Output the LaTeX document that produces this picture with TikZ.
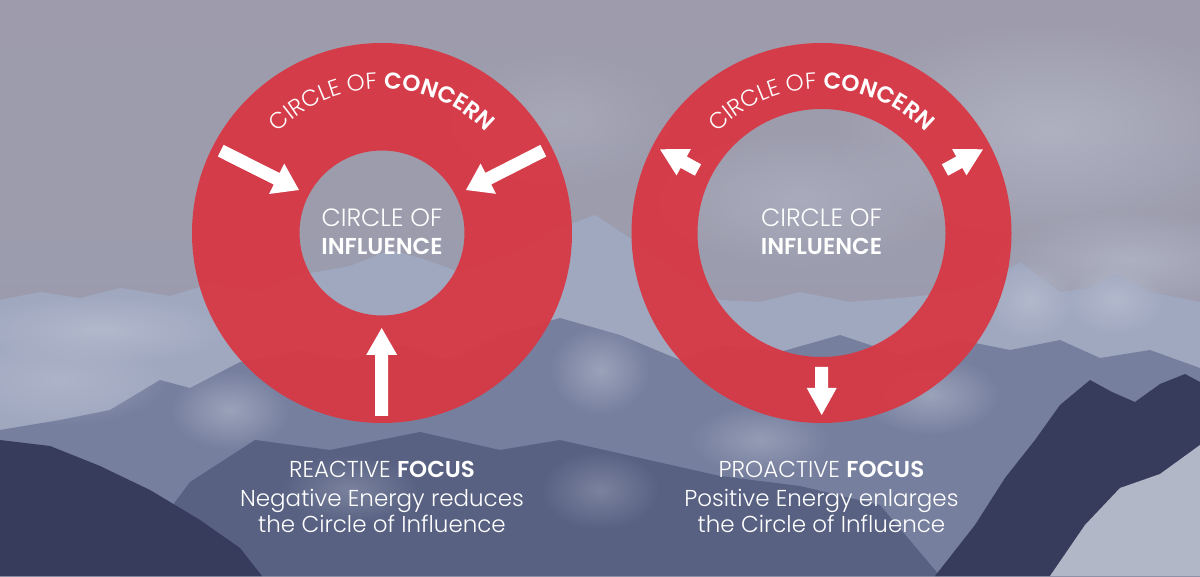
\documentclass[tikz,border=0pt]{standalone}
\usepackage{fontspec}
\setmainfont{Poppins Light}[BoldFont={Poppins SemiBold}]
\usetikzlibrary{calc,decorations.text,fadings}
\definecolor{ringred}{RGB}{216,55,67}
\definecolor{skytop}{RGB}{158,156,172}
\definecolor{skymid}{RGB}{152,155,174}
\definecolor{cloudc}{RGB}{190,194,210}
\definecolor{farmt}{RGB}{160,168,192}
\definecolor{midmt}{RGB}{118,127,158}
\definecolor{snow}{RGB}{186,192,210}
\definecolor{lowmt}{RGB}{88,97,130}
\definecolor{darkmt}{RGB}{56,60,92}
\definecolor{brightsnow}{RGB}{200,205,220}
\tikzfading[name=softblob, inner color=transparent!0, outer color=transparent!100]
\newcommand\whitearrow[4]{% tail, tip, head length, head half width
  \fill[arrowfill]
    ($(#1)!6.5pt!90:(#2)$) --
    ($(#2)!#3!(#1)!6.5pt!90:(#2)$) --
    ($(#2)!#3!(#1)!#4!90:(#2)$) --
    (#2) --
    ($(#2)!#3!(#1)!#4!-90:(#2)$) --
    ($(#2)!#3!(#1)!6.5pt!-90:(#2)$) --
    ($(#1)!6.5pt!-90:(#2)$) -- cycle;}
\begin{document}
\begin{tikzpicture}[x=1pt,y=1pt,
  arrowfill/.style={fill=white},
  ring/.style={fill=ringred, fill opacity=0.94, even odd rule},
  lbl/.style={text=white, inner sep=0pt, anchor=base, font=\fontsize{23}{23}\selectfont},
  lblb/.style={lbl, font=\fontsize{23}{23}\selectfont\bfseries},
  cloud/.style={fill=cloudc, path fading=softblob},
  mist/.style={fill=snow, path fading=softblob}]
\useasboundingbox (0,0) rectangle (1200,576);
% sky
\shade[top color=skytop, bottom color=skymid] (0,0) rectangle (1200,576);
\begin{scope}[shift={(0,576)},yscale=-1]
  % clouds
  \fill[cloud, opacity=.55] (1050,130) ellipse [x radius=220, y radius=110];
  \fill[cloud, opacity=.55] (1130,260) ellipse [x radius=140, y radius=50];
  \fill[cloud, opacity=.40] (800,200) ellipse [x radius=150, y radius=70];
  \fill[cloud, opacity=.30] (560,120) ellipse [x radius=120, y radius=70];
  % far hazy snowy range
  \fill[farmt] (0,300) -- (40,292) -- (80,298) -- (120,288) -- (170,296) -- (210,284)
    -- (260,292) -- (300,275) -- (350,266) -- (390,250) -- (420,258) -- (460,272) -- (510,255)
    -- (560,228) -- (595,215) -- (630,238) -- (680,275) -- (720,300) -- (760,302) -- (800,292)
    -- (850,302) -- (900,298) -- (960,292) -- (1000,275) -- (1020,262) -- (1060,292) -- (1090,288)
    -- (1115,274) -- (1150,292) -- (1200,302) -- (1200,576) -- (0,576) -- cycle;
  \fill[mist, opacity=.7] (100,330) ellipse [x radius=130, y radius=35];
  \fill[mist, opacity=.7] (1030,300) ellipse [x radius=45, y radius=40];
  \fill[mist, opacity=.7] (1115,300) ellipse [x radius=50, y radius=35];
  % mid rocky range
  \fill[midmt] (0,430) -- (60,420) -- (110,410) -- (160,380) -- (190,388) -- (240,362)
    -- (300,350) -- (350,360) -- (400,345) -- (450,360) -- (500,335) -- (560,318) -- (620,335)
    -- (680,360) -- (720,345) -- (780,352) -- (840,335) -- (900,355) -- (960,340) -- (1010,350)
    -- (1060,340) -- (1100,358) -- (1150,350) -- (1200,368) -- (1200,576) -- (0,576) -- cycle;
  \fill[mist, opacity=.5] (60,380) ellipse [x radius=110, y radius=45];
  \fill[mist, opacity=.55] (230,410) ellipse [x radius=60, y radius=40];
  \fill[mist, opacity=.55] (600,370) ellipse [x radius=50, y radius=45];
  \fill[mist, opacity=.55] (930,395) ellipse [x radius=70, y radius=40];
  \fill[mist, opacity=.45] (760,440) ellipse [x radius=70, y radius=35];
  % lower mass
  \fill[lowmt] (120,576) -- (190,482) -- (255,440) -- (330,450) -- (420,432) -- (500,450) -- (560,440)
    -- (640,458) -- (720,476) -- (800,486) -- (880,505) -- (940,576) -- cycle;
  \fill[mist, opacity=.35] (350,490) ellipse [x radius=70, y radius=35];
  \fill[mist, opacity=.35] (600,490) ellipse [x radius=60, y radius=40];
  % dark foreground left
  \fill[darkmt] (0,440) -- (50,446) -- (100,466) -- (150,490) -- (200,520) -- (240,548) -- (262,576) -- (0,576) -- cycle;
  % dark foreground right
  \fill[darkmt] (935,576) -- (975,525) -- (1005,478) -- (1035,440) -- (1060,405) -- (1090,380)
    -- (1112,392) -- (1135,402) -- (1160,384) -- (1185,374) -- (1200,382) -- (1200,576) -- cycle;
  \fill[brightsnow, opacity=.85] (1050,576) -- (1085,525) -- (1120,488) -- (1160,474) -- (1200,445) -- (1200,576) -- cycle;
  % rings
  \coordinate (Lc) at (382,233);
  \coordinate (Rc) at (821.5,233);
  \fill[ring] (Lc) circle[radius=190] (Lc) circle[radius=82.5];
  \fill[ring] (Rc) circle[radius=190] (Rc) circle[radius=124];
  % arrow end points
  \coordinate (LA1t) at (220.7,150.7); \coordinate (LA1h) at (299,190);
  \coordinate (LA2t) at (543.3,150.7); \coordinate (LA2h) at (466,190);
  \coordinate (LA3t) at (381.7,416);   \coordinate (LA3h) at (381.7,328);
  \coordinate (RA1t) at (698,170);     \coordinate (RA1h) at (660,149.3);
  \coordinate (RA2t) at (945,170);     \coordinate (RA2h) at (983,149.3);
  \coordinate (RA3t) at (821.7,367);   \coordinate (RA3h) at (821.7,415);
\end{scope}
\whitearrow{LA1t}{LA1h}{25pt}{17pt}
\whitearrow{LA2t}{LA2h}{25pt}{17pt}
\whitearrow{LA3t}{LA3h}{27pt}{15.5pt}
\whitearrow{RA1t}{RA1h}{27pt}{15pt}
\whitearrow{RA2t}{RA2h}{27pt}{15pt}
\whitearrow{RA3t}{RA3h}{27pt}{15pt}
% arc texts
\path[decorate, decoration={text along path, text align=center, text color=white,
  text={|\fontsize{23}{23}\selectfont|CIRCLE OF |\fontsize{23}{23}\selectfont\bfseries|CONCERN}}]
  (Lc) ++(180:144.5) arc[start angle=180, end angle=0, radius=144.5];
\path[decorate, decoration={text along path, text align=center, text color=white,
  text={|\fontsize{23}{23}\selectfont|CIRCLE OF |\fontsize{23}{23}\selectfont\bfseries|CONCERN}}]
  (Rc) ++(180:144.5) arc[start angle=180, end angle=0, radius=144.5];
% centre labels
\node[lbl, font=\fontsize{25}{25}\selectfont] (lcA) at (382,349.3) {CIRCLE OF};
\node[lblb] (lcB) at (382,321) {INFLUENCE};
\node[lbl, font=\fontsize{25}{25}\selectfont] (rcA) at (821.5,349.3) {CIRCLE OF};
\node[lblb] (rcB) at (821.5,321) {INFLUENCE};
% captions
\node[lbl] (lt1) at (382,98) {REACTIVE \textbf{FOCUS}};
\node[lbl] (lt2) at (382,70) {Negative Energy reduces};
\node[lbl] (lt3) at (382,43) {the Circle of Influence};
\node[lbl] (rt1) at (821.5,98) {PROACTIVE \textbf{FOCUS}};
\node[lbl] (rt2) at (821.5,70) {Positive Energy enlarges};
\node[lbl] (rt3) at (821.5,43) {the Circle of Influence};
\end{tikzpicture}
\end{document}
